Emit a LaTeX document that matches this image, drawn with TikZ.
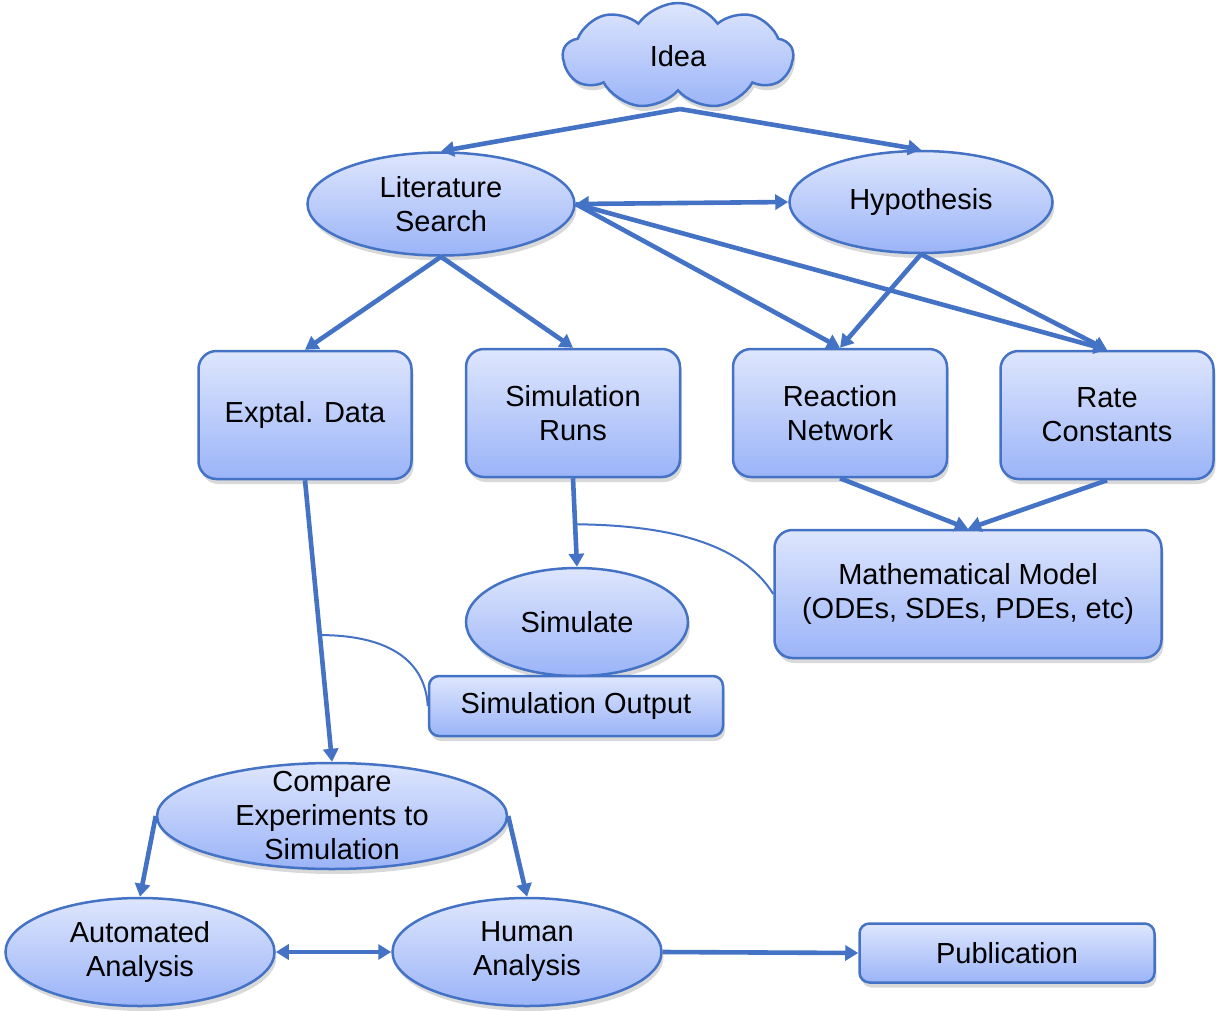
\documentclass[tikz,border=0pt]{standalone}
\usepackage{fontspec}
\setmainfont{Liberation Sans}
\usetikzlibrary{shapes.geometric,shapes.symbols,arrows.meta,shadows,calc}
\definecolor{edge}{RGB}{68,114,196}
\definecolor{topc}{RGB}{222,230,253}
\definecolor{botc}{RGB}{155,180,248}
\tikzset{
  txt/.style={font=\fontsize{29}{34}\selectfont, align=center, text=black, inner sep=0pt},
  base/.style={txt, draw=edge, line width=2.5pt, top color=topc, bottom color=botc,
    drop shadow={opacity=0.3, shadow xshift=2pt, shadow yshift=-5pt}},
  boxnode/.style={base, rectangle, rounded corners=18pt},
  smallbox/.style={base, rectangle, rounded corners=10pt},
  ellnode/.style={base, ellipse},
  conn/.style={draw=edge, line width=4.6pt, -{Triangle[length=13pt,width=15pt]}},
  bconn/.style={draw=edge, line width=4.6pt, {Triangle[length=13pt,width=15pt]}-{Triangle[length=13pt,width=15pt]}},
  thin/.style={draw=edge, line width=2pt},
}
\begin{document}
\begin{tikzpicture}[x=1pt,y=-1pt]
\useasboundingbox (0,0) rectangle (1216,1010);
% nodes
\node[base, cloud, cloud puffs=9, cloud puff arc=110, aspect=2.2, minimum width=230, minimum height=106] (idea) at (678,56) {Idea};
\node[ellnode, minimum width=267, minimum height=103] (lit) at (441,204) {Literature\\Search};
\node[ellnode, minimum width=263, minimum height=102] (hyp) at (921,202) {Hypothesis};
\node[boxnode, minimum width=213, minimum height=128] (exp) at (305,415) {Exptal. Data};
\node[boxnode, minimum width=214, minimum height=128] (runs) at (573,413) {Simulation\\Runs};
\node[boxnode, minimum width=214, minimum height=128] (rxn) at (840,413) {Reaction\\Network};
\node[boxnode, minimum width=213, minimum height=128] (rate) at (1107,415) {Rate\\Constants};
\node[boxnode, minimum width=387, minimum height=128] (math) at (968,594) {Mathematical Model\\(ODEs, SDEs, PDEs, etc)};
\node[ellnode, minimum width=222, minimum height=108] (sim) at (577,622) {Simulate};
\node[smallbox, minimum width=294, minimum height=60] (out) at (576,706) {Simulation Output};
\node[ellnode, minimum width=350, minimum height=106] (cmp) at (332,816) {};
\node[txt] (cmptxt) at (cmp.center) {Compare\\Experiments to\\Simulation};
\node[ellnode, minimum width=269, minimum height=108] (auto) at (140,952) {Automated\\Analysis};
\node[ellnode, minimum width=269, minimum height=108] (hum) at (527,952) {Human\\Analysis};
\node[smallbox, minimum width=295, minimum height=59] (pub) at (1007,953) {Publication};
% connectors
\coordinate (ideab) at (680,109);
\draw[conn] (ideab) -- (lit.north);
\draw[conn] (ideab) -- (hyp.north);
\draw[bconn] (lit.east) -- (hyp.west);
\draw[conn] (lit.east) -- (rxn.north);
\draw[conn] (lit.east) -- (rate.north);
\draw[conn] (hyp.south) -- (rxn.north);
\draw[conn] (hyp.south) -- (rate.north);
\draw[conn] (lit.south) -- (exp.north);
\draw[conn] (lit.south) -- (runs.north);
\draw[conn] (rxn.south) -- (math.north);
\draw[conn] (rate.south) -- (math.north);
\draw[conn] (runs.south) -- (sim.north);
\draw[conn] (exp.south) -- (cmp.north);
\draw[conn] (cmp.west) -- (auto.north);
\draw[conn] (cmp.east) -- (hum.north);
\draw[bconn] (auto.east) -- (hum.west);
\draw[conn] (hum.east) -- (pub.west);
% thin links
\coordinate (j1) at ($(runs.south)!0.52!(sim.north)$);
\coordinate (j2) at ($(exp.south)!0.55!(cmp.north)$);
\draw[thin] (math.west) .. controls (740,540) and (660,525) .. (j1);
\draw[thin] (out.west) .. controls (425,655) and (380,635) .. (j2);
\end{tikzpicture}
\end{document}
